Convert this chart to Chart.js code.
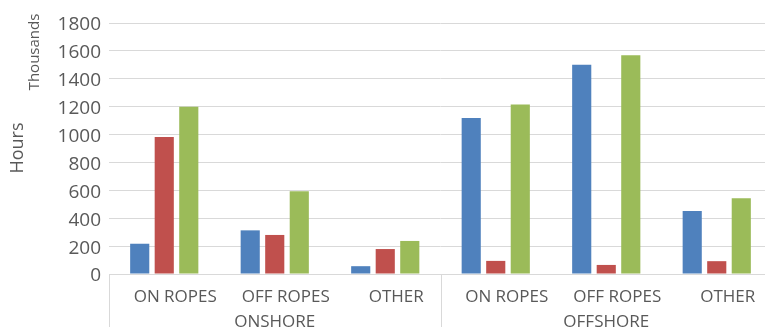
<!DOCTYPE html>
<html>
<head>
<meta charset="utf-8">
<script src="https://cdn.jsdelivr.net/npm/chart.js@4.4.0/dist/chart.umd.min.js"></script>
<style>
  html, body { margin: 0; padding: 0; overflow: hidden; background: #fff; }
</style>
</head>
<body>
<canvas id="chartCanvas" width="772" height="327"></canvas>
<script>
// chart values (thousands of hours)
const categories = ["ON ROPES", "OFF ROPES", "OTHER", "ON ROPES", "OFF ROPES", "OTHER"];
const groups = ["ONSHORE", "OFFSHORE"];
const yTicks = [0, 200, 400, 600, 800, 1000, 1200, 1400, 1600, 1800];
const blueValues = [217, 313, 56, 1119, 1500, 451];
const redValues = [982, 280, 179, 94, 65, 92];
const greenValues = [1199, 593, 237, 1216, 1568, 543];

const textColor = "#595959";
const lineColor = "#d9d9d9";

// group separators + the two rotated y titles
const extras = {
  id: "extras",
  afterDraw(chart) {
    const ctx = chart.ctx;
    const xs = chart.scales.x;
    const top = chart.chartArea.bottom;
    const bottom = chart.height;
    ctx.save();
    ctx.strokeStyle = lineColor;
    ctx.lineWidth = 1;
    [xs.left, (xs.left + xs.right) / 2, xs.right].forEach((px) => {
      const x = Math.round(px) + 0.5;
      ctx.beginPath();
      ctx.moveTo(x, top);
      ctx.lineTo(x, bottom);
      ctx.stroke();
    });
    ctx.fillStyle = textColor;
    ctx.textAlign = "center";
    ctx.textBaseline = "middle";
    ctx.translate(18, 148);
    ctx.rotate(-Math.PI / 2);
    ctx.font = "18px 'Open Sans'";
    ctx.fillText("Hours", 0, 0);
    ctx.restore();

    ctx.save();
    ctx.fillStyle = textColor;
    ctx.textAlign = "center";
    ctx.textBaseline = "middle";
    ctx.translate(35, 52);
    ctx.rotate(-Math.PI / 2);
    ctx.font = "15px 'Open Sans'";
    ctx.fillText("Thousands", 0, 0);
    ctx.restore();
  },
};

const chartConfig = {
  type: "bar",
  data: {
    labels: categories,
    datasets: [
      { label: "Series 1", data: blueValues, backgroundColor: "#4f81bd", xAxisID: "x" },
      { label: "Series 2", data: redValues, backgroundColor: "#c0504d", xAxisID: "x" },
      { label: "Series 3", data: greenValues, backgroundColor: "#9bbb59", xAxisID: "x" },
    ],
  },
  options: {
    responsive: false,
    animation: false,
    datasets: {
      bar: { categoryPercentage: 0.666, barPercentage: 0.78 },
    },
    layout: { padding: { top: 23, left: 0, right: 0, bottom: 0 } },
    plugins: {
      legend: { display: false },
      tooltip: { enabled: false },
    },
    scales: {
      x: {
        position: "bottom",
        grid: { display: false },
        border: { display: true, color: lineColor },
        ticks: {
          color: textColor,
          font: { family: "'Open Sans'", size: 17 },
          padding: 5,
          labelOffset: 11,
          maxRotation: 0,
          autoSkip: false,
        },
        afterFit: (s) => { s.height = 30; },
      },
      x2: {
        type: "category",
        position: "bottom",
        labels: groups,
        offset: true,
        grid: { display: false },
        border: { display: false },
        ticks: {
          color: textColor,
          font: { family: "'Open Sans'", size: 17 },
          padding: 0,
          maxRotation: 0,
        },
        afterFit: (s) => { s.height = 23; },
      },
      y: {
        min: 0,
        max: yTicks[yTicks.length - 1],
        afterBuildTicks: (s) => { s.ticks = yTicks.map((v) => ({ value: v })); },
        grid: { color: lineColor, drawTicks: false },
        border: { display: false },
        ticks: {
          color: textColor,
          font: { family: "'Open Sans'", size: 19 },
          padding: 8,
          labelOffset: 2,
          callback: (v) => String(v),
        },
        afterFit: (s) => { s.width = 109; },
      },
    },
  },
  plugins: [extras],
};

new Chart(document.getElementById("chartCanvas"), chartConfig);
</script>
</body>
</html>
